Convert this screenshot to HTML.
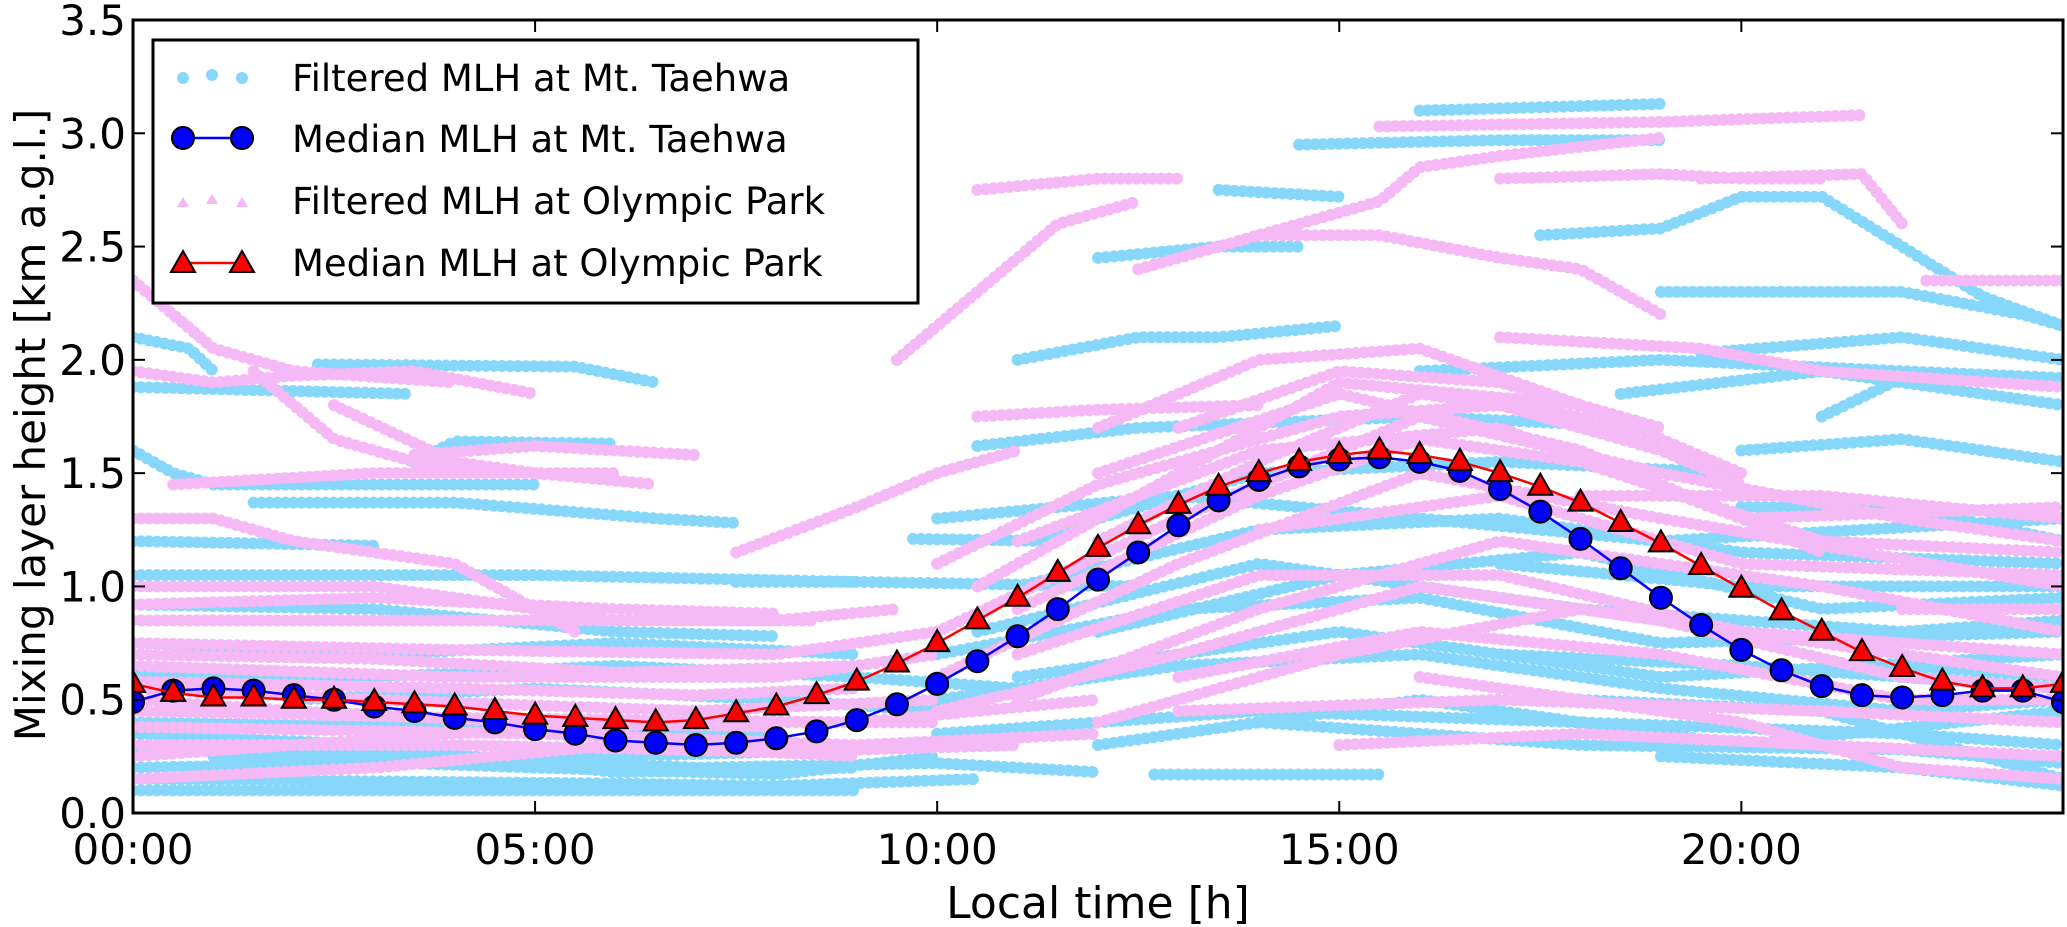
<!DOCTYPE html>
<html><head><meta charset="utf-8"><style>
html,body{margin:0;padding:0;background:#fff;}
svg{display:block;font-family:"DejaVu Sans","Liberation Sans",sans-serif;}
</style></head><body>
<svg id="chart" width="2067" height="927" viewBox="0 0 2067 927" xmlns="http://www.w3.org/2000/svg">
<defs><clipPath id="clip"><rect x="133" y="20" width="1930" height="793"/></clipPath></defs>
<g id="scatter" clip-path="url(#clip)"></g>
<g id="medians" clip-path="url(#clip)"></g>
<rect x="133" y="20" width="1930" height="793" fill="none" stroke="#000" stroke-width="3"/>
<g id="axes"></g>
<text x="1098" y="918" text-anchor="middle" font-size="44">Local time [h]</text>
<text transform="translate(45,425) rotate(-90)" text-anchor="middle" font-size="42">Mixing layer height [km a.g.l.]</text>
<g>
<rect x="153" y="40" width="765" height="263" fill="#fff" stroke="#000" stroke-width="3"/>
<g>
<circle cx="183" cy="78" r="6" fill="#87d7fb"/><circle cx="212" cy="75" r="6" fill="#87d7fb"/><circle cx="242" cy="78" r="6" fill="#87d7fb"/>
<text x="292" y="91" font-size="37">Filtered MLH at Mt. Taehwa</text></g>
<g>
<line x1="183" y1="138" x2="242" y2="138" stroke="#0000ff" stroke-width="2.5"/>
<circle cx="183" cy="138" r="11" fill="#0000ff" stroke="#000" stroke-width="2"/><circle cx="242" cy="138" r="11" fill="#0000ff" stroke="#000" stroke-width="2"/>
<text x="292" y="152" font-size="37">Median MLH at Mt. Taehwa</text></g>
<g>
<polygon points="183,197 177,207 189,207" fill="#f5b9f5"/><polygon points="212,194 206,204 218,204" fill="#f5b9f5"/><polygon points="242,197 236,207 248,207" fill="#f5b9f5"/>
<text x="292" y="214" font-size="37">Filtered MLH at Olympic Park</text></g>
<g>
<line x1="183" y1="263" x2="242" y2="263" stroke="#ff0000" stroke-width="2.5"/>
<polygon points="183,251 171,272 195,272" fill="#ff0000" stroke="#000" stroke-width="2"/><polygon points="242,251 230,272 254,272" fill="#ff0000" stroke="#000" stroke-width="2"/>
<text x="292" y="276" font-size="37">Median MLH at Olympic Park</text></g>
</g>
</svg>
<script>
const xTicks=[0,5,10,15,20];
const xTickLabels=["00:00","05:00","10:00","15:00","20:00"];
const yTicks=[0,0.5,1,1.5,2,2.5,3,3.5];
const yTickLabels=["0.0","0.5","1.0","1.5","2.0","2.5","3.0","3.5"];
const medianHours=[0,0.5,1,1.5,2,2.5,3,3.5,4,4.5,5,5.5,6,6.5,7,7.5,8,8.5,9,9.5,10,10.5,11,11.5,12,12.5,13,13.5,14,14.5,15,15.5,16,16.5,17,17.5,18,18.5,19,19.5,20,20.5,21,21.5,22,22.5,23,23.5,24];
const medianTaehwa=[0.49,0.54,0.55,0.54,0.52,0.50,0.47,0.45,0.42,0.40,0.37,0.35,0.32,0.31,0.30,0.31,0.33,0.36,0.41,0.48,0.57,0.67,0.78,0.90,1.03,1.15,1.27,1.38,1.47,1.53,1.56,1.57,1.55,1.51,1.43,1.33,1.21,1.08,0.95,0.83,0.72,0.63,0.56,0.52,0.51,0.52,0.54,0.54,0.49];
const medianOlympic=[0.57,0.53,0.51,0.51,0.50,0.50,0.49,0.48,0.47,0.45,0.43,0.42,0.41,0.40,0.41,0.44,0.47,0.52,0.58,0.66,0.75,0.85,0.95,1.06,1.17,1.27,1.36,1.44,1.50,1.55,1.58,1.60,1.58,1.55,1.50,1.44,1.37,1.28,1.19,1.09,0.99,0.89,0.80,0.71,0.64,0.58,0.55,0.55,0.57];
const tracksTaehwa=[
[[0,2.1],[0.7,2.05],[1.0,1.95]],
[[0,1.88],[3.4,1.85]],
[[2.3,1.98],[5.5,1.97],[6.5,1.9]],
[[0,1.6],[0.5,1.5],[1,1.45],[5,1.45]],
[[3.5,1.55],[4,1.64],[6,1.63]],
[[1.5,1.37],[4,1.37],[6.5,1.3],[7.5,1.28]],
[[0,1.2],[3,1.18]],
[[9.7,1.21],[11.5,1.2]],
[[0,1.05],[5,1.05],[9,1.02]],
[[7.5,1.02],[9,1.02],[12.5,1.0]],
[[0,0.92],[3,0.9],[6,0.8],[8,0.78]],
[[0,0.75],[3,0.7],[6,0.75],[9,0.7]],
[[0,0.62],[3,0.6],[6,0.65],[9,0.6],[11,0.55]],
[[0,0.28],[4,0.25],[7,0.2],[10,0.22],[12,0.18]],
[[0,0.2],[3,0.22],[6,0.25],[9,0.28],[11,0.3]],
[[0,0.15],[6,0.13],[8,0.12],[10.5,0.15]],
[[0,0.1],[4,0.1],[9,0.1]],
[[0,0.4],[4,0.38],[8,0.35]],
[[0,0.35],[3,0.3],[6,0.18],[9,0.2]],
[[1,0.25],[5,0.2],[8,0.17],[10,0.25]],
[[2,0.5],[5,0.55],[8,0.5],[10,0.45]],
[[10.5,1.62],[12.5,1.7],[16,1.75],[19,1.7]],
[[11,2.0],[12.5,2.1],[13.5,2.1],[15,2.15]],
[[12,2.45],[13.5,2.5],[14.5,2.5]],
[[13.5,2.75],[15,2.72]],
[[14.5,2.95],[17,2.97],[19,2.97]],
[[16,3.1],[19,3.13]],
[[17.5,2.55],[19,2.58],[20,2.72],[21,2.72],[22,2.5],[23,2.28],[24,2.15]],
[[19,2.3],[22,2.3],[23.5,2.2],[24,2.15]],
[[19.5,2.03],[22,2.1],[24,2.0]],
[[16,1.95],[19,2.0],[22,1.95],[24,1.92]],
[[18.5,1.85],[21,1.95],[23,1.85],[24,1.8]],
[[21,1.75],[22,1.92],[24,1.9]],
[[12.7,0.17],[15.5,0.17]],
[[10,0.35],[14,0.45],[18,0.4],[22,0.35],[24,0.3]],
[[11,0.6],[15,0.8],[19,0.6],[24,0.7]],
[[10.5,0.8],[14,1.1],[18,0.9],[22,0.8],[24,0.85]],
[[10,1.3],[13,1.4],[16,1.3],[19,1.2],[24,1.3]],
[[11,1.2],[14,1.5],[17,1.55],[20,1.5]],
[[17,1.1],[20,1.0],[24,1.0]],
[[18,0.5],[21,0.45],[24,0.15]],
[[19,0.25],[22,0.2],[24,0.12]],
[[20,1.35],[22,1.35],[24,1.2]],
[[22,0.65],[24,0.6]],
[[12,0.3],[16,0.5],[20,0.3],[24,0.45]],
[[10,0.5],[13,0.65],[16,0.7],[19,0.55],[22,0.45],[24,0.5]],
[[10,0.7],[13,0.9],[16,0.95],[19,0.75],[24,0.8]],
[[11,1.0],[14,1.25],[17,1.3],[20,1.15],[24,1.1]],
[[12,0.8],[15,1.05],[18,1.15],[21,0.9],[24,0.95]],
[[14,0.4],[18,0.3],[22,0.28],[24,0.22]],
[[20,1.6],[22,1.65],[24,1.55]],
[[17,0.7],[20,0.65],[24,0.55]]
];
const tracksOlympic=[
[[0,2.35],[0.5,2.2],[1,2.05],[2,1.95],[4,1.9]],
[[0,1.95],[1,1.9],[2,1.93],[3.5,1.95],[5,1.85]],
[[1.5,1.95],[2.5,1.65],[3.5,1.55],[4.5,1.52]],
[[2.5,1.8],[4,1.55],[5,1.5],[6.5,1.45]],
[[3.5,1.58],[5,1.62],[7,1.58]],
[[0.5,1.45],[3,1.5],[6,1.5]],
[[0,1.3],[1,1.3],[2,1.2],[4,1.1],[5.5,0.8]],
[[0,1.0],[3,1.0],[6,0.85],[8.5,0.85]],
[[0,0.85],[5,0.85],[8,0.85],[9.5,0.9]],
[[0,0.92],[3,0.95],[6,0.9],[8,0.88]],
[[7.5,1.15],[9,1.35],[10,1.5],[11,1.6]],
[[0,0.75],[4,0.72],[8,0.7],[10,0.8]],
[[0,0.7],[3,0.68],[6,0.62],[9,0.65]],
[[0,0.65],[4,0.6],[8,0.6],[10,0.7]],
[[0,0.58],[4,0.55],[7,0.52],[9,0.55]],
[[0,0.55],[3,0.5],[7,0.45],[10,0.5]],
[[0,0.3],[4,0.3],[8,0.27],[11,0.3]],
[[0,0.15],[3,0.2],[6,0.3],[9,0.25]],
[[0,0.45],[4,0.42],[9,0.4],[12,0.5]],
[[0,0.38],[5,0.35],[9,0.3],[12,0.35]],
[[0,0.25],[4,0.35],[7,0.4],[10,0.4]],
[[0,0.5],[2,0.45],[5,0.4],[8,0.38]],
[[10.5,1.75],[12,1.78],[14,1.8]],
[[9.5,2.0],[10.5,2.3],[11.5,2.6],[12.5,2.7]],
[[10.5,2.75],[12,2.8],[13,2.8]],
[[12.5,2.4],[14,2.55],[15.5,2.7],[16,2.85],[17,2.9],[19,2.98]],
[[15.5,3.03],[19,3.05],[21.5,3.08]],
[[17,2.8],[19,2.82],[20,2.8],[21,2.8]],
[[14,2.55],[15.5,2.55],[17,2.45],[18,2.4],[19,2.2]],
[[19.5,2.8],[21.5,2.82],[22,2.6]],
[[22.3,2.35],[24,2.35]],
[[17,2.1],[19.5,2.05],[21,1.95],[24,1.88]],
[[12,1.7],[14,2.0],[16,2.05],[18,1.8]],
[[10.5,1.0],[13,1.5],[15,1.9],[18,1.8],[20,1.5]],
[[10,0.8],[13,1.3],[16,1.75],[19,1.5],[22,1.3],[24,1.2]],
[[10,0.6],[13,1.1],[16,1.5],[19,1.3],[24,1.0]],
[[11,0.5],[14,0.9],[17,1.2],[21,1.0],[24,0.8]],
[[12,0.4],[15,0.7],[18,0.9],[22,0.7],[24,0.6]],
[[13,0.45],[17,0.5],[21,0.45],[24,0.4]],
[[16,0.6],[20,0.4],[22,0.2],[24,0.15]],
[[11,1.2],[14,1.6],[17,1.7],[20,1.3],[24,1.35]],
[[12,1.5],[15,1.85],[18,1.6],[21,1.15]],
[[14,1.25],[17,1.4],[20,1.1],[24,1.05]],
[[22,0.9],[24,0.9]],
[[10,1.1],[12,1.45],[15,1.75],[17,1.8],[19,1.6]],
[[11,0.9],[14,1.4],[16,1.65],[18,1.55],[21,1.2],[24,1.15]],
[[12,1.2],[14,1.55],[16,1.85],[18,1.75],[20,1.45]],
[[10,0.45],[13,0.7],[16,1.0],[19,0.85],[22,0.6],[24,0.55]],
[[11,0.7],[14,1.05],[17,1.05],[20,0.8],[24,0.7]],
[[13,0.6],[16,0.8],[19,0.7],[22,0.5],[24,0.5]],
[[15,0.3],[18,0.35],[21,0.3],[24,0.25]],
[[18,1.4],[21,1.4],[24,1.3]],
[[13,1.7],[15,1.95],[17,1.9],[19,1.7]]
];
const X0=133,X1=2063,Y0=813,Y1=20;
function sx(h){return X0+(h/24)*(X1-X0);}
function sy(v){return Y0-(v/3.5)*(Y0-Y1);}
const NS="http://www.w3.org/2000/svg";
function mk(tag,attrs,parent){const e=document.createElementNS(NS,tag);for(const k in attrs)e.setAttribute(k,attrs[k]);parent.appendChild(e);return e;}
const scatter=document.getElementById('scatter');
tracksTaehwa.forEach(t=>{
  const p=mk('polyline',{points:t.map(q=>sx(q[0])+','+sy(q[1])).join(' '),fill:'none',stroke:'#87d7fb','stroke-width':12,'stroke-linecap':'round','stroke-dasharray':'0 8'},scatter);
  
  
});
tracksOlympic.forEach(t=>{
  const p=mk('polyline',{points:t.map(q=>sx(q[0])+','+sy(q[1])).join(' '),fill:'none',stroke:'#f5b9f5','stroke-width':12,'stroke-linecap':'round','stroke-dasharray':'0 8'},scatter);
  
  
});
const med=document.getElementById('medians');
const lb=mk('polyline',{points:medianHours.map((h,i)=>sx(h)+','+sy(medianTaehwa[i])).join(' '),fill:'none',stroke:'#0000ff','stroke-width':2.5},med);


medianHours.forEach((h,i)=>{
  const c=mk('circle',{cx:sx(h),cy:sy(medianTaehwa[i]),r:11,fill:'#0000ff',stroke:'#000','stroke-width':2},med);
  
  
});
const lr=mk('polyline',{points:medianHours.map((h,i)=>sx(h)+','+sy(medianOlympic[i])).join(' '),fill:'none',stroke:'#ff0000','stroke-width':2.5},med);


medianHours.forEach((h,i)=>{
  const x=sx(h),y=sy(medianOlympic[i]);
  const t=mk('polygon',{points:`${x},${y-13} ${x-12},${y+8} ${x+12},${y+8}`,fill:'#ff0000',stroke:'#000','stroke-width':2},med);
  
  
});
const axes=document.getElementById('axes');
xTicks.forEach((h,i)=>{
  const x=sx(h);
  const a=mk('line',{x1:x,y1:Y0,x2:x,y2:Y0-12,stroke:'#000','stroke-width':2},axes);
  
  
  const b=mk('line',{x1:x,y1:Y1,x2:x,y2:Y1+12,stroke:'#000','stroke-width':2},axes);
  
  
  const t=mk('text',{x:x,y:864,'text-anchor':'middle','font-size':42},axes);
  t.textContent=xTickLabels[i];
  
  
});
yTicks.forEach((v,i)=>{
  const y=sy(v);
  const a=mk('line',{x1:X0,y1:y,x2:X0+12,y2:y,stroke:'#000','stroke-width':2},axes);
  
  
  const b=mk('line',{x1:X1,y1:y,x2:X1-12,y2:y,stroke:'#000','stroke-width':2},axes);
  
  
  const t=mk('text',{x:126,y:y+15,'text-anchor':'end','font-size':42},axes);
  t.textContent=yTickLabels[i];
  
  
});
</script>
</body></html>
